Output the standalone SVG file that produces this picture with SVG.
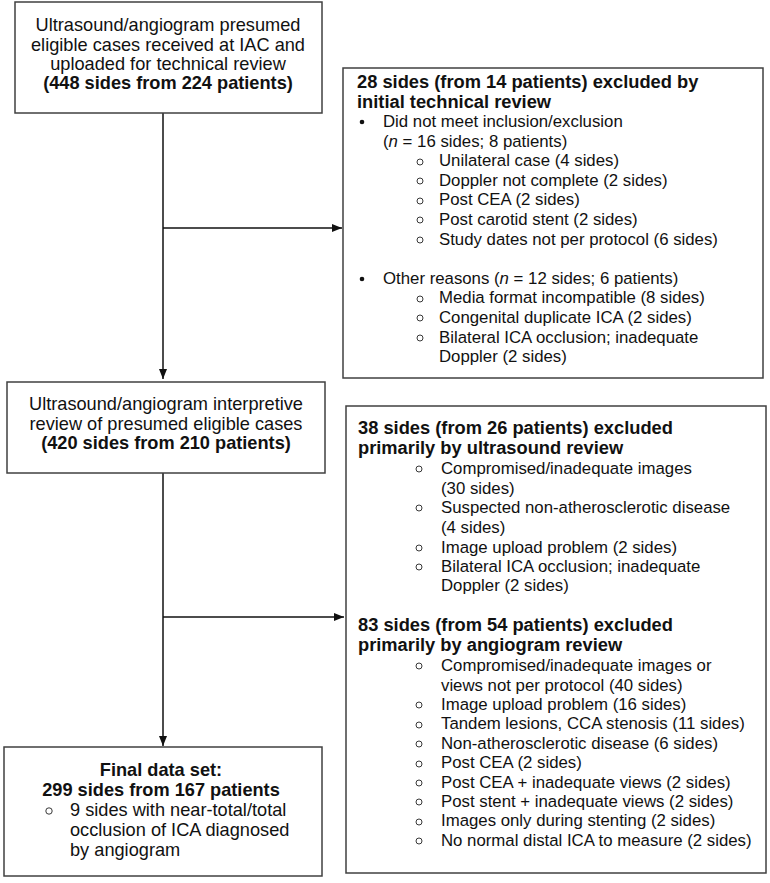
<svg xmlns="http://www.w3.org/2000/svg" width="770" height="883" viewBox="0 0 770 883">
<style>
text{font-family:"Liberation Sans",Arial,sans-serif;font-size:16.8px;fill:#111}
.L{font-size:18.2px}
.T{font-size:18.3px;font-weight:bold}
.b{font-weight:bold}
.c{text-anchor:middle}
.box{fill:#fff;stroke:#404040;stroke-width:1.5}
.ln{stroke:#111;stroke-width:1.5;fill:none}
.sb{fill:none;stroke:#222;stroke-width:0.9}
</style>
<defs>
<marker id="ah" viewBox="0 0 10 10" refX="10" refY="5" markerWidth="10" markerHeight="10" markerUnits="userSpaceOnUse" orient="auto">
<path d="M0,1 L10,5 L0,9 Z" fill="#111"/>
</marker>
</defs>
<rect width="770" height="883" fill="#fff"/>
<g id="connectors">
<path class="ln" d="M163,113 V379" marker-end="url(#ah)"/>
<path class="ln" d="M163,228 H342" marker-end="url(#ah)"/>
<path class="ln" d="M163,473 V746" marker-end="url(#ah)"/>
<path class="ln" d="M163,617 H344" marker-end="url(#ah)"/>
</g>
<g id="n1">
<rect class="box" x="15" y="2" width="307" height="111"/>
<text class="c L" x="168" y="31">Ultrasound/angiogram presumed</text>
<text class="c L" x="168" y="51">eligible cases received at IAC and</text>
<text class="c L" x="168" y="70">uploaded for technical review</text>
<text class="c L b" x="168" y="89">(448 sides from 224 patients)</text>
</g>
<g id="n2">
<rect class="box" x="343" y="68" width="420" height="310"/>
<text class="T" x="357" y="88">28 sides (from 14 patients) excluded by</text>
<text class="T" x="357" y="108">initial technical review</text>
<circle cx="362" cy="122" r="2.3" fill="#111"/>
<text x="383" y="127">Did not meet inclusion/exclusion</text>
<text x="383" y="147">(<tspan font-style="italic">n</tspan> = 16 sides; 8 patients)</text>
<circle class="sb" cx="420" cy="162" r="3"/>
<text x="439" y="166">Unilateral case (4 sides)</text>
<circle class="sb" cx="420" cy="181" r="3"/>
<text x="439" y="186">Doppler not complete (2 sides)</text>
<circle class="sb" cx="420" cy="201" r="3"/>
<text x="439" y="205">Post CEA (2 sides)</text>
<circle class="sb" cx="420" cy="220" r="3"/>
<text x="439" y="225">Post carotid stent (2 sides)</text>
<circle class="sb" cx="420" cy="240" r="3"/>
<text x="439" y="245">Study dates not per protocol (6 sides)</text>
<circle cx="362" cy="279" r="2.3" fill="#111"/>
<text x="383" y="284">Other reasons (<tspan font-style="italic">n</tspan> = 12 sides; 6 patients)</text>
<circle class="sb" cx="420" cy="299" r="3"/>
<text x="439" y="303">Media format incompatible (8 sides)</text>
<circle class="sb" cx="420" cy="318" r="3"/>
<text x="439" y="323">Congenital duplicate ICA (2 sides)</text>
<circle class="sb" cx="420" cy="338" r="3"/>
<text x="439" y="343">Bilateral ICA occlusion; inadequate</text>
<text x="439" y="362">Doppler (2 sides)</text>
</g>
<g id="n3">
<rect class="box" x="7" y="382" width="318" height="91"/>
<text class="c L" x="166" y="410">Ultrasound/angiogram interpretive</text>
<text class="c L" x="166" y="430">review of presumed eligible cases</text>
<text class="c L b" x="166" y="449">(420 sides from 210 patients)</text>
</g>
<g id="n4">
<rect class="box" x="346" y="406" width="420" height="467"/>
<text class="T" x="358" y="434">38 sides (from 26 patients) excluded</text>
<text class="T" x="358" y="454">primarily by ultrasound review</text>
<circle class="sb" cx="419" cy="469" r="3"/>
<text x="441" y="474">Compromised/inadequate images</text>
<text x="441" y="494">(30 sides)</text>
<circle class="sb" cx="419" cy="508" r="3"/>
<text x="441" y="513">Suspected non-atherosclerotic disease</text>
<text x="441" y="533">(4 sides)</text>
<circle class="sb" cx="419" cy="548" r="3"/>
<text x="441" y="553">Image upload problem (2 sides)</text>
<circle class="sb" cx="419" cy="567" r="3"/>
<text x="441" y="572">Bilateral ICA occlusion; inadequate</text>
<text x="441" y="591">Doppler (2 sides)</text>
<text class="T" x="358" y="631">83 sides (from 54 patients) excluded</text>
<text class="T" x="358" y="651">primarily by angiogram review</text>
<circle class="sb" cx="419" cy="666" r="3"/>
<text x="441" y="671">Compromised/inadequate images or</text>
<text x="441" y="691">views not per protocol (40 sides)</text>
<circle class="sb" cx="419" cy="705" r="3"/>
<text x="441" y="710">Image upload problem (16 sides)</text>
<circle class="sb" cx="419" cy="725" r="3"/>
<text x="441" y="729">Tandem lesions, CCA stenosis (11 sides)</text>
<circle class="sb" cx="419" cy="744" r="3"/>
<text x="441" y="749">Non-atherosclerotic disease (6 sides)</text>
<circle class="sb" cx="419" cy="764" r="3"/>
<text x="441" y="768">Post CEA (2 sides)</text>
<circle class="sb" cx="419" cy="783" r="3"/>
<text x="441" y="788">Post CEA + inadequate views (2 sides)</text>
<circle class="sb" cx="419" cy="802" r="3"/>
<text x="441" y="807">Post stent + inadequate views (2 sides)</text>
<circle class="sb" cx="419" cy="822" r="3"/>
<text x="441" y="826">Images only during stenting (2 sides)</text>
<circle class="sb" cx="419" cy="841" r="3"/>
<text x="441" y="846">No normal distal ICA to measure (2 sides)</text>
</g>
<g id="n5">
<rect class="box" x="4" y="747" width="318" height="129"/>
<text class="c L b" x="161" y="776">Final data set:</text>
<text class="c L b" x="161" y="796">299 sides from 167 patients</text>
<circle class="sb" cx="49" cy="811" r="3.2"/>
<text class="L" x="70" y="816">9 sides with near-total/total</text>
<text class="L" x="70" y="836">occlusion of ICA diagnosed</text>
<text class="L" x="70" y="856">by angiogram</text>
</g>
</svg>
